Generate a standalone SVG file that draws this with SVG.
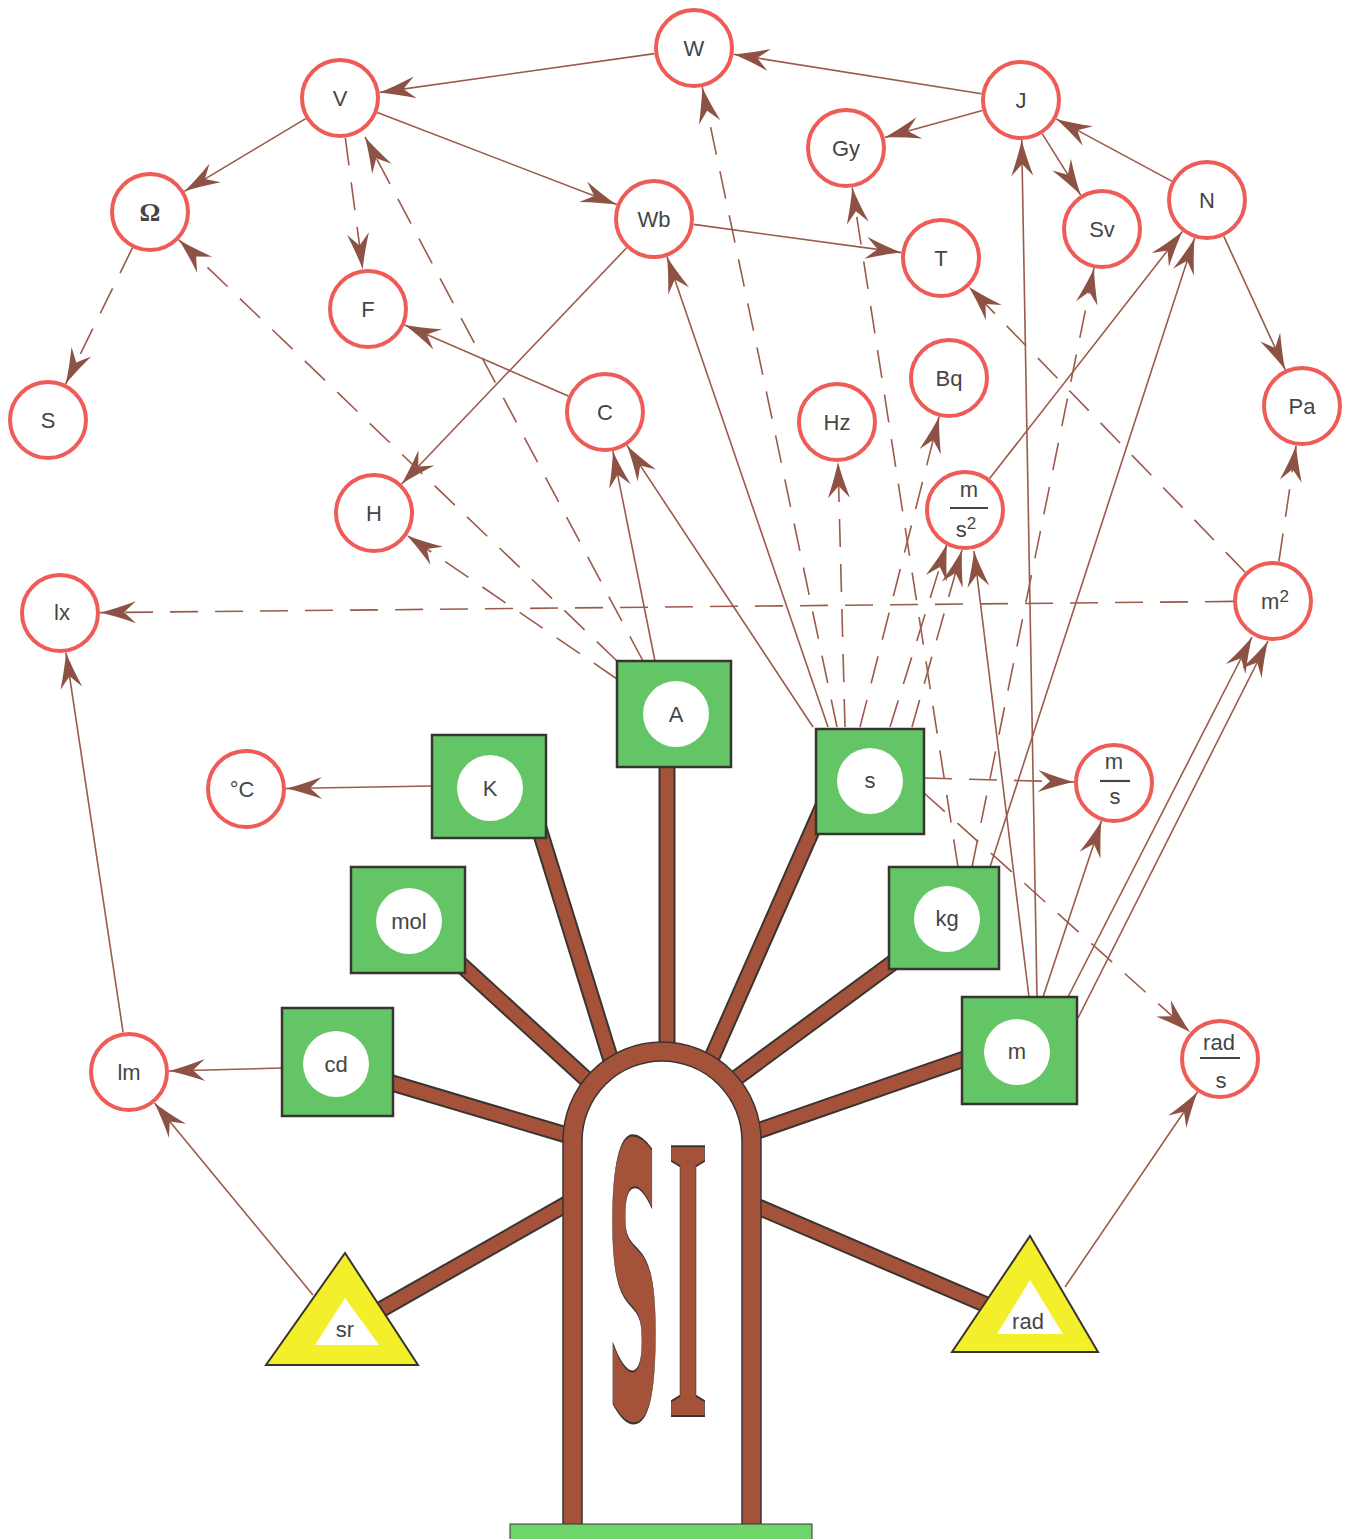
<svg xmlns="http://www.w3.org/2000/svg" width="1353" height="1539" viewBox="0 0 1353 1539">
<style>
.bg{fill:#ffffff}
.c{stroke:#9b5a4a;stroke-width:1.6;fill:none;marker-end:url(#ah)}
.d{stroke:#9b5a4a;stroke-width:1.6;fill:none;stroke-dasharray:28 17;marker-end:url(#ah)}
.u circle{fill:#ffffff;stroke:#ef5b56;stroke-width:4}
.lbl{font-family:"Liberation Sans",Arial,sans-serif;font-size:22px;fill:#454545;text-anchor:middle}
.sup{font-size:17px}
.box rect{fill:#63c566;stroke:#3a3431;stroke-width:2.5}
.box circle{fill:#ffffff}
.tri polygon.o{fill:#f4ef2b;stroke:#3a3431;stroke-width:2}
.tri polygon.i{fill:#ffffff}
.spoke-o{stroke:#3a3431;stroke-width:17;fill:none}
.spoke{stroke:#a5523b;stroke-width:13;fill:none}
.frac{stroke:#454545;stroke-width:2.2}
.si{fill:#a5523b;stroke:#3a3431;stroke-width:1.5;text-anchor:middle}
</style>
<defs>
<marker id="ah" markerUnits="userSpaceOnUse" markerWidth="40" markerHeight="26" viewBox="-38 -13 40 26" refX="0" refY="0" orient="auto" overflow="visible">
<path d="M0,0 Q-15,-3.5 -36,-11 L-24,0 L-36,11 Q-15,3.5 0,0 Z" fill="#8d5244"/>
</marker>
</defs>
<rect class="bg" x="0" y="0" width="1353" height="1539"/>

<g id="connectors">
<line class="c" x1="654.4" y1="53.6" x2="379.6" y2="92.4"/>
<line class="c" x1="981.5" y1="93.7" x2="733.5" y2="54.3"/>
<line class="c" x1="305.7" y1="118.6" x2="184.3" y2="191.4"/>
<line class="c" x1="377.3" y1="112.4" x2="616.7" y2="204.6"/>
<line class="c" x1="982.4" y1="110.6" x2="884.6" y2="137.4"/>
<line class="c" x1="1042.3" y1="133.9" x2="1080.7" y2="195.1"/>
<line class="c" x1="1171.8" y1="181.1" x2="1056.2" y2="118.9"/>
<line class="c" x1="1223.8" y1="236.3" x2="1285.2" y2="369.7"/>
<line class="c" x1="693.6" y1="224.4" x2="901.4" y2="252.6"/>
<line class="c" x1="626.4" y1="248" x2="401.6" y2="484"/>
<line class="c" x1="568.3" y1="396" x2="404.7" y2="325"/>
<line class="c" x1="432" y1="786" x2="286" y2="788.5"/>
<line class="c" x1="282" y1="1068" x2="169" y2="1071"/>
<line class="c" x1="123.1" y1="1032.4" x2="66" y2="652.6"/>
<line class="c" x1="313" y1="1295" x2="154.5" y2="1102.9"/>
<line class="c" x1="1065" y1="1287" x2="1197.5" y2="1092"/>
<line class="c" x1="655" y1="661" x2="612.9" y2="451.2"/>
<line class="c" x1="813" y1="727" x2="627" y2="445.4"/>
<line class="c" x1="828" y1="727" x2="667" y2="256.8"/>
<line class="c" x1="1037" y1="997" x2="1021.7" y2="140"/>
<line class="c" x1="1029" y1="997" x2="974" y2="551"/>
<line class="c" x1="1043" y1="997" x2="1101.4" y2="821"/>
<line class="c" x1="1068" y1="997" x2="1252" y2="637"/>
<line class="c" x1="1078" y1="1018" x2="1268" y2="641"/>
<line class="c" x1="990" y1="867" x2="1194.6" y2="238"/>
<line class="c" x1="989.6" y1="478.5" x2="1182.4" y2="231.5"/>
<line class="d" x1="837" y1="727" x2="702.2" y2="87.2"/>
<line class="d" x1="845" y1="727" x2="838" y2="462"/>
<line class="d" x1="860" y1="727" x2="939.1" y2="416.8"/>
<line class="d" x1="890" y1="727" x2="947" y2="544"/>
<line class="d" x1="912" y1="727" x2="962" y2="550"/>
<line class="d" x1="924" y1="778" x2="1074" y2="782"/>
<line class="d" x1="924" y1="793" x2="1190.2" y2="1032.3"/>
<line class="d" x1="958" y1="867" x2="852.2" y2="187.5"/>
<line class="d" x1="972" y1="867" x2="1094" y2="268.2"/>
<line class="d" x1="1245.2" y1="572.3" x2="968.8" y2="286.7"/>
<line class="d" x1="1278.9" y1="561.4" x2="1296.1" y2="445.6"/>
<line class="d" x1="1233" y1="601.4" x2="100" y2="612.6"/>
<line class="d" x1="643" y1="661" x2="365" y2="137"/>
<line class="d" x1="617" y1="661" x2="178.8" y2="239.8"/>
<line class="d" x1="617" y1="679" x2="407" y2="535.4"/>
<line class="d" x1="132.4" y1="247.9" x2="65.6" y2="384.1"/>
<line class="d" x1="345.3" y1="137.7" x2="362.7" y2="269.3"/>
</g>

<g id="SI">
<g id="spokes">
<line class="spoke-o" x1="667" y1="740" x2="667" y2="1141"/>
<line class="spoke-o" x1="534" y1="812" x2="636" y2="1141"/>
<line class="spoke-o" x1="445" y1="950" x2="620" y2="1110"/>
<line class="spoke-o" x1="375" y1="1078" x2="600" y2="1145"/>
<line class="spoke-o" x1="345" y1="1330" x2="600" y2="1185"/>
<line class="spoke-o" x1="830" y1="790" x2="675" y2="1141"/>
<line class="spoke-o" x1="910" y1="950" x2="720" y2="1090"/>
<line class="spoke-o" x1="990" y1="1050" x2="700" y2="1151"/>
<line class="spoke-o" x1="1010" y1="1315" x2="700" y2="1182"/>
<line class="spoke" x1="667" y1="740" x2="667" y2="1141"/>
<line class="spoke" x1="534" y1="812" x2="636" y2="1141"/>
<line class="spoke" x1="445" y1="950" x2="620" y2="1110"/>
<line class="spoke" x1="375" y1="1078" x2="600" y2="1145"/>
<line class="spoke" x1="345" y1="1330" x2="600" y2="1185"/>
<line class="spoke" x1="830" y1="790" x2="675" y2="1141"/>
<line class="spoke" x1="910" y1="950" x2="720" y2="1090"/>
<line class="spoke" x1="990" y1="1050" x2="700" y2="1151"/>
<line class="spoke" x1="1010" y1="1315" x2="700" y2="1182"/>
</g>
<path d="M563,1526 V1141 A99,99 0 0 1 761,1141 V1526 Z" fill="#a5523b" stroke="#3a3431" stroke-width="1.5"/>
<path d="M582,1526 V1141 A80,80 0 0 1 742,1141 V1526 Z" fill="#ffffff" stroke="#3a3431" stroke-width="1.5"/>
<text class="si" transform="translate(634,1418) scale(1.1,5.6)" vector-effect="non-scaling-stroke" style="font-family:'DejaVu Sans',sans-serif;font-weight:bold;font-size:68px">S</text>
<text class="si" transform="translate(688,1416) scale(1.3,5.15)" vector-effect="non-scaling-stroke" style="font-family:'Liberation Serif','Times New Roman',serif;font-weight:bold;font-size:80px">I</text>
<rect x="510" y="1524" width="302" height="20" fill="#6fd46a" stroke="#3a3431" stroke-width="1"/>
</g>

<g id="n-W" class="u"><circle cx="694" cy="48" r="38"/><text class="lbl" x="694" y="56">W</text></g>
<g id="n-V" class="u"><circle cx="340" cy="98" r="38"/><text class="lbl" x="340" y="106">V</text></g>
<g id="n-J" class="u"><circle cx="1021" cy="100" r="38"/><text class="lbl" x="1021" y="108">J</text></g>
<g id="n-Gy" class="u"><circle cx="846" cy="148" r="38"/><text class="lbl" x="846" y="156">Gy</text></g>
<g id="n-Ohm" class="u"><circle cx="150" cy="212" r="38"/><text class="lbl" x="150" y="221" style="font-family:'Liberation Serif','Times New Roman',serif;font-size:26px;font-weight:bold">Ω</text></g>
<g id="n-Wb" class="u"><circle cx="654" cy="219" r="38"/><text class="lbl" x="654" y="227">Wb</text></g>
<g id="n-N" class="u"><circle cx="1207" cy="200" r="38"/><text class="lbl" x="1207" y="208">N</text></g>
<g id="n-Sv" class="u"><circle cx="1102" cy="229" r="38"/><text class="lbl" x="1102" y="237">Sv</text></g>
<g id="n-T" class="u"><circle cx="941" cy="258" r="38"/><text class="lbl" x="941" y="266">T</text></g>
<g id="n-F" class="u"><circle cx="368" cy="309" r="38"/><text class="lbl" x="368" y="317">F</text></g>
<g id="n-S" class="u"><circle cx="48" cy="420" r="38"/><text class="lbl" x="48" y="428">S</text></g>
<g id="n-C" class="u"><circle cx="605" cy="412" r="38"/><text class="lbl" x="605" y="420">C</text></g>
<g id="n-Bq" class="u"><circle cx="949" cy="378" r="38"/><text class="lbl" x="949" y="386">Bq</text></g>
<g id="n-Hz" class="u"><circle cx="837" cy="422" r="38"/><text class="lbl" x="837" y="430">Hz</text></g>
<g id="n-Pa" class="u"><circle cx="1302" cy="406" r="38"/><text class="lbl" x="1302" y="414">Pa</text></g>
<g id="n-ms2" class="u"><circle cx="965" cy="510" r="38"/><text class="lbl" x="969" y="497">m</text><line class="frac" x1="950" y1="508" x2="988" y2="508"/><text class="lbl" x="966" y="537">s<tspan class="sup" dy="-8">2</tspan></text></g>
<g id="n-H" class="u"><circle cx="374" cy="513" r="38"/><text class="lbl" x="374" y="521">H</text></g>
<g id="n-lx" class="u"><circle cx="60" cy="613" r="38"/><text class="lbl" x="62" y="620">lx</text></g>
<g id="n-m2" class="u"><circle cx="1273" cy="601" r="38"/><text class="lbl" x="1275" y="609">m<tspan class="sup" dy="-7">2</tspan></text></g>
<g id="n-degC" class="u"><circle cx="246" cy="789" r="38"/><text class="lbl" x="242" y="797">°C</text></g>
<g id="n-ms" class="u"><circle cx="1114" cy="783" r="38"/><text class="lbl" x="1114" y="769">m</text><line class="frac" x1="1100" y1="781" x2="1130" y2="781"/><text class="lbl" x="1115" y="804">s</text></g>
<g id="n-lm" class="u"><circle cx="129" cy="1072" r="38"/><text class="lbl" x="129" y="1080">lm</text></g>
<g id="n-rads" class="u"><circle cx="1220" cy="1059" r="38"/><text class="lbl" x="1219" y="1050">rad</text><line class="frac" x1="1200" y1="1058" x2="1240" y2="1058"/><text class="lbl" x="1221" y="1088">s</text></g>

<g id="n-A" class="box"><rect x="617" y="661" width="114" height="106"/><circle cx="676" cy="714" r="33"/><text class="lbl" x="676" y="722">A</text></g>
<g id="n-K" class="box"><rect x="432" y="735" width="114" height="103"/><circle cx="490" cy="788" r="33"/><text class="lbl" x="490" y="796">K</text></g>
<g id="n-s" class="box"><rect x="816" y="729" width="108" height="105"/><circle cx="870" cy="781" r="33"/><text class="lbl" x="870" y="788">s</text></g>
<g id="n-mol" class="box"><rect x="351" y="867" width="114" height="106"/><circle cx="409" cy="921" r="33"/><text class="lbl" x="409" y="929">mol</text></g>
<g id="n-kg" class="box"><rect x="889" y="867" width="110" height="102"/><circle cx="947" cy="919" r="33"/><text class="lbl" x="947" y="926">kg</text></g>
<g id="n-cd" class="box"><rect x="282" y="1008" width="111" height="108"/><circle cx="336" cy="1064" r="33"/><text class="lbl" x="336" y="1072">cd</text></g>
<g id="n-m" class="box"><rect x="962" y="997" width="115" height="107"/><circle cx="1017" cy="1052" r="33"/><text class="lbl" x="1017" y="1059">m</text></g>

<g id="n-sr" class="tri"><polygon class="o" points="345,1253 418,1365 266,1365"/><polygon class="i" points="345,1298 379,1345 315,1345"/><text class="lbl" x="345" y="1337">sr</text></g>
<g id="n-rad" class="tri"><polygon class="o" points="1030,1236 1098,1352 952,1352"/><polygon class="i" points="1030,1280 1063,1334 997,1334"/><text class="lbl" x="1028" y="1329">rad</text></g>
</svg>
